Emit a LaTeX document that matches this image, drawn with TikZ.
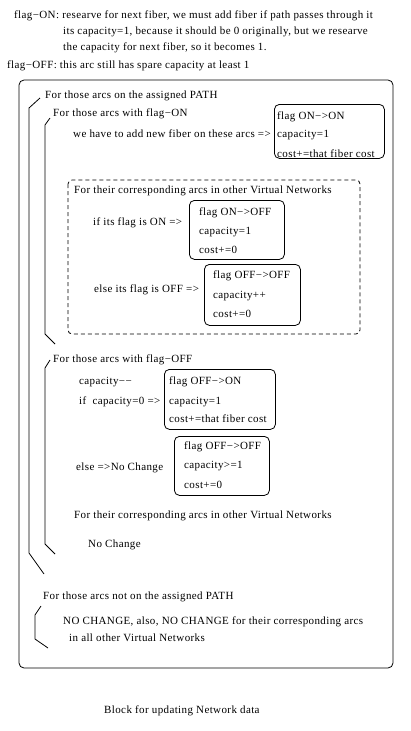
\documentclass[tikz,border=0pt]{standalone}
\usepackage{fontspec}
\setmainfont{Liberation Serif}[LetterSpace=3.5]
\begin{document}
\begin{tikzpicture}[x=1pt,y=-1pt,
  txt/.style={anchor=base west,inner sep=0pt,font=\fontsize{11}{12}\selectfont},
  vbox/.style={draw,rounded corners=5pt,line width=0.8pt,anchor=north west,inner sep=0pt},
  brk/.style={line width=0.8pt},
  outerbox/.style={line width=0.8pt,rounded corners=5pt},
  dbox/.style={line width=0.8pt,rounded corners=4pt,dash pattern=on 4pt off 3pt}]
\useasboundingbox (0,0) rectangle (411,731);
% header notes
\node[txt] (t1) at (14,18.5) {flag−ON: researve for next fiber, we must add fiber if path passes through it};
\node[txt] (t2) at (63,34.5) {its capacity=1, because it should be 0 originally, but we researve};
\node[txt] (t3) at (63,50.5) {the capacity for next fiber, so it becomes 1.};
\node[txt] (t4) at (7,68.5) {flag−OFF: this arc still has spare capacity at least 1};
% outer block
\draw[outerbox] (19,80) rectangle (393,668);
\draw[dbox] (68,180) rectangle (360,334);
% brackets
\draw[brk] (40,98) -- (29,108) -- (29,553) -- (44,574);
\draw[brk] (50,118) -- (45,125) -- (45,334) -- (55,344);
\draw[brk] (50,360) -- (45,368) -- (45,544) -- (55,554);
\draw[brk] (41,606) -- (35,615) -- (35,639) -- (48,648);
% on path
\node[txt] (a1) at (45,98.5) {For those arcs on the assigned PATH};
\node[txt] (a2) at (53,116.5) {For those arcs with flag−ON};
\node[txt] (a3) at (73,137.5) {we have to add new fiber on these arcs =>};
\node[vbox,minimum width=110pt,minimum height=54pt] (b1) at (274,104) {};
\node[txt] (b1a) at (277,119.5) {flag ON−>ON};
\node[txt] (b1b) at (277,137.5) {capacity=1};
\node[txt] (b1c) at (277,157.5) {cost+=that fiber cost};
\node[txt] (d1) at (74,193.5) {For their corresponding arcs in other Virtual Networks};
\node[txt] (d2) at (93,225.5) {if its flag is ON =>};
\node[vbox,minimum width=95pt,minimum height=59pt] (b2) at (189,200) {};
\node[txt] (b2a) at (199,215.5) {flag ON−>OFF};
\node[txt] (b2b) at (199,234.5) {capacity=1};
\node[txt] (b2c) at (199,253.5) {cost+=0};
\node[txt] (d3) at (94,292.5) {else its flag is OFF =>};
\node[vbox,minimum width=96pt,minimum height=61pt] (b3) at (204,264) {};
\node[txt] (b3a) at (213,278.5) {flag OFF−>OFF};
\node[txt] (b3b) at (213,298.5) {capacity++};
\node[txt] (b3c) at (213,317.5) {cost+=0};
% flag off
\node[txt] (o1) at (53,362.5) {For those arcs with flag−OFF};
\node[txt] (o2) at (79,384.5) {capacity−−};
\node[txt] (o3) at (79,404.5) {if\ \ capacity=0 =>};
\node[vbox,minimum width=111pt,minimum height=60pt] (b4) at (164,369) {};
\node[txt] (b4a) at (169,384.5) {flag OFF−>ON};
\node[txt] (b4b) at (169,404.5) {capacity=1};
\node[txt] (b4c) at (169,422.5) {cost+=that fiber cost};
\node[txt] (o4) at (76,470.5) {else =>No Change};
\node[vbox,minimum width=95pt,minimum height=59pt] (b5) at (174,436) {};
\node[txt] (b5a) at (184,449.5) {flag OFF−>OFF};
\node[txt] (b5b) at (184,468.5) {capacity>=1};
\node[txt] (b5c) at (184,488.5) {cost+=0};
\node[txt] (o5) at (74,518.5) {For their corresponding arcs in other Virtual Networks};
\node[txt] (o6) at (88,547.5) {No Change};
% not on path
\node[txt] (n1) at (43,599.5) {For those arcs not on the assigned PATH};
\node[txt] (n2) at (63,624.5) {NO CHANGE, also, NO CHANGE for their corresponding arcs};
\node[txt] (n3) at (69,641.5) {in all other Virtual Networks};
\node[txt] (cap) at (104,713.5) {Block for updating Network data};
\end{tikzpicture}
\end{document}
